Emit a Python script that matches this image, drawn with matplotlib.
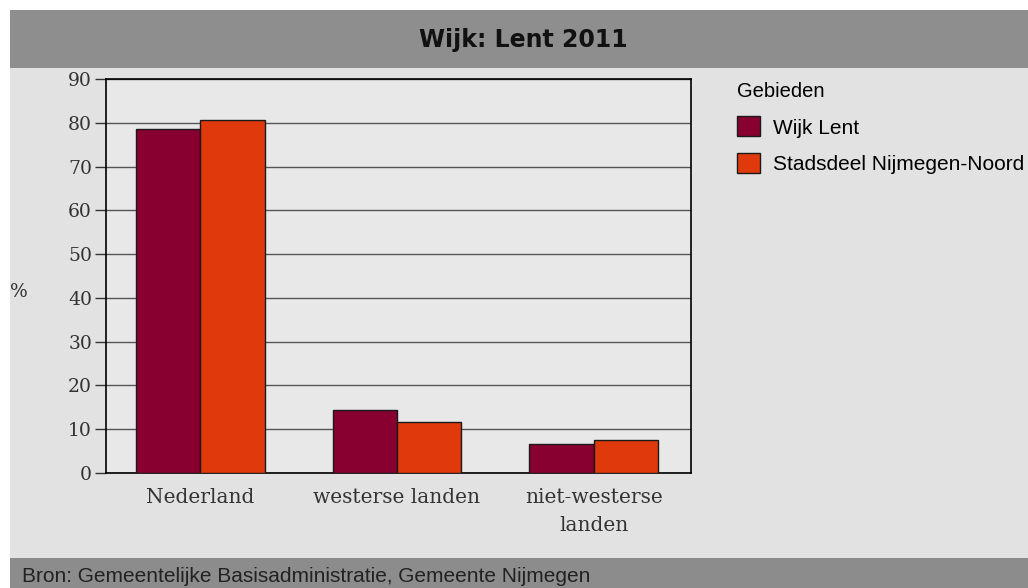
import matplotlib
matplotlib.use("Agg")
from matplotlib import pyplot as plt
from matplotlib.patches import Rectangle
import numpy as np

categories = ['Nederland', 'westerse landen', 'niet-westerse\nlanden']
wijk_lent = [78.5, 14.4, 6.6]
stadsdeel_noord = [80.6, 11.7, 7.6]
series_names = ['Wijk Lent', 'Stadsdeel Nijmegen-Noord']
yticks = [0, 10, 20, 30, 40, 50, 60, 70, 80, 90]

fig = plt.figure(figsize=(10.28, 5.88), dpi=100)
fig.patch.set_facecolor('white')

# achtergrondpanelen
fig.add_artist(Rectangle((0.0097, 0.051), 0.9903, 0.834, transform=fig.transFigure,
                         facecolor='#e2e2e2', edgecolor='none', zorder=0))
fig.add_artist(Rectangle((0.0097, 0.884), 0.9903, 0.099, transform=fig.transFigure,
                         facecolor='#8e8e8e', edgecolor='none', zorder=0))
fig.add_artist(Rectangle((0.0097, 0.0), 0.9903, 0.051, transform=fig.transFigure,
                         facecolor='#8c8c8c', edgecolor='none', zorder=0))

fig.text(0.509, 0.932, 'Wijk: Lent 2011', ha='center', va='center',
         fontsize=17, fontweight='bold', family='DejaVu Sans', color='#111111')
fig.text(0.021, 0.019, 'Bron: Gemeentelijke Basisadministratie, Gemeente Nijmegen',
         ha='left', va='center', fontsize=15, family='Liberation Sans', color='#222222')

ax = fig.add_axes([0.1031, 0.1956, 0.569, 0.67])
ax.set_facecolor('#e8e8e8')

x = np.arange(len(categories))
w = 0.327
ax.bar(x - w / 2, wijk_lent, w, color='#880030', edgecolor='#1a1a1a', linewidth=1,
       label=series_names[0], zorder=3)
ax.bar(x + w / 2, stadsdeel_noord, w, color='#e03a0c', edgecolor='#1a1a1a', linewidth=1,
       label=series_names[1], zorder=3)

ax.set_xlim(-0.48, 2.495)
ax.set_ylim(0, 90)
ax.set_yticks(yticks)
ax.set_xticks(x)
ax.set_xticklabels(categories, linespacing=1.55)
ax.yaxis.grid(True, color='#555555', linewidth=1)
ax.set_axisbelow(True)
for s in ax.spines.values():
    s.set_color('black')
    s.set_linewidth(1.2)

for lab in ax.get_yticklabels():
    lab.set_family('DejaVu Serif')
    lab.set_fontsize(13.5)
    lab.set_color('#333333')
for lab in ax.get_xticklabels():
    lab.set_family('DejaVu Serif')
    lab.set_fontsize(14.5)
    lab.set_color('#333333')
ax.tick_params(axis='y', length=8, width=1, color='#333333', pad=2)
ax.tick_params(axis='x', length=0, pad=11)

fig.text(0.018, 0.503, '%', ha='center', va='center', fontsize=13.5,
         family='DejaVu Serif', color='#333333')

leg = ax.legend(loc='upper left', bbox_to_anchor=(0.709, 0.875),
                bbox_transform=fig.transFigure, frameon=False, title='Gebieden',
                prop={'family': 'Liberation Sans', 'size': 15},
                handlelength=1.1, handleheight=1.1, handletextpad=0.6,
                labelspacing=0.75, borderaxespad=0)
leg.get_title().set_fontfamily('Liberation Sans')
leg.get_title().set_fontsize(14.5)
leg._legend_box.align = 'left'

plt.savefig('out.png', dpi=100)
